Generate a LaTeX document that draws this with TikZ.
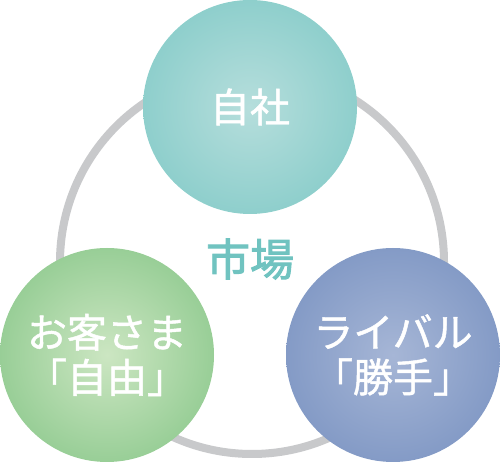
\documentclass[tikz,border=0pt]{standalone}
\usepackage{fontspec}
\setmainfont{Noto Sans CJK JP}
\newfontfamily\medfont[FakeBold=1.2]{Noto Sans CJK JP}
\newfontfamily\semifont[FakeBold=2.2]{Noto Sans CJK JP}
\usepackage{tikz}
\definecolor{tealin}{RGB}{182,222,220}
\definecolor{tealout}{RGB}{112,195,192}
\definecolor{greenin}{RGB}{204,230,194}
\definecolor{greenout}{RGB}{113,188,118}
\definecolor{bluein}{RGB}{166,182,214}
\definecolor{blueout}{RGB}{106,134,186}
\definecolor{ringgray}{RGB}{200,201,203}
\pgfdeclareradialshading{tealball}{\pgfpoint{0bp}{0bp}}{color(0bp)=(tealin); color(44bp)=(tealout); color(50bp)=(tealout)}
\pgfdeclareradialshading{greenball}{\pgfpoint{0bp}{0bp}}{color(0bp)=(greenin); color(44bp)=(greenout); color(50bp)=(greenout)}
\pgfdeclareradialshading{blueball}{\pgfpoint{0bp}{0bp}}{color(0bp)=(bluein); color(44bp)=(blueout); color(50bp)=(blueout)}

\begin{document}
\begin{tikzpicture}[x=1pt,y=1pt,
      every node/.append style={align=center,inner sep=0pt},
      ball/.style={circle,minimum size=214pt,text=white,shade,
        font=\medfont\fontsize{40}{45}\selectfont}]
    \useasboundingbox (0,0) rectangle (500,462);
    % market ring
    \node (market) [circle,draw=ringgray,line width=8pt,minimum size=384pt] at (252,200) {};
    \node (marketlabel) [text=tealout,font=\semifont\fontsize{44}{44}\selectfont] at (250,203) {市場};
    % three players
    \node (self) [ball,shading=tealball] at (250,355) {自社};
    \node (customer) [ball,shading=greenball] at (107,107) {お客さま\\「自由」};
    \node (rival) [ball,shading=blueball] at (393,107) {ライバル\\「勝手」};
  \end{tikzpicture}
\end{document}
